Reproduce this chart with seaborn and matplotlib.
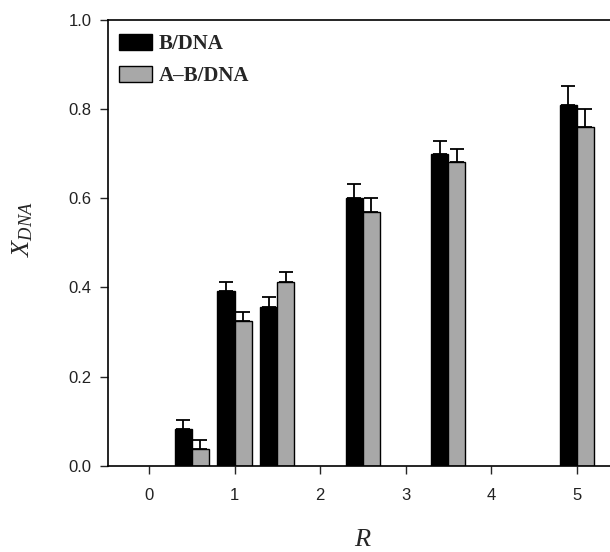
import numpy as np
import pandas as pd
import matplotlib
matplotlib.use("Agg")
import matplotlib.pyplot as plt
import seaborn as sns

# Data
R_values = [0.5, 1.0, 1.5, 2.5, 3.5, 5.0]
b_dna = [0.083, 0.393, 0.357, 0.600, 0.699, 0.810]
b_dna_err = [0.020, 0.020, 0.021, 0.032, 0.029, 0.042]
ab_dna = [0.038, 0.324, 0.413, 0.569, 0.681, 0.760]
ab_dna_err = [0.020, 0.020, 0.021, 0.031, 0.029, 0.040]
series_names = ["B/DNA", "A\u2013B/DNA"]
x_ticks = [0, 1, 2, 3, 4, 5]
y_ticks = [0.0, 0.2, 0.4, 0.6, 0.8, 1.0]

df = pd.DataFrame({
    "R": R_values * 2,
    "X": b_dna + ab_dna,
    "err": b_dna_err + ab_dna_err,
    "series": [series_names[0]] * len(R_values) + [series_names[1]] * len(R_values),
})

sns.set_style("ticks")
plt.rcParams["font.family"] = ["Liberation Sans", "DejaVu Sans"]
plt.rcParams["mathtext.fontset"] = "custom"
plt.rcParams["mathtext.it"] = "Liberation Serif:italic"
plt.rcParams["mathtext.rm"] = "Liberation Serif"

fig = plt.figure(figsize=(6.1, 5.52), dpi=100)
ax = fig.add_axes([0.177, 0.156, 0.823, 0.808])

sns.barplot(data=df, x="R", y="X", hue="series", native_scale=True,
            palette=["#000000", "#a8a8a8"], width=0.8, errorbar=None,
            edgecolor="black", linewidth=1.0, ax=ax, legend=True)

# upper-only error bars placed at the bar centres from the library
for container, errs in zip(ax.containers, [b_dna_err, ab_dna_err]):
    xs = [p.get_x() + p.get_width() / 2 for p in container.patches]
    hs = [p.get_height() for p in container.patches]
    ax.errorbar(xs, hs, yerr=[np.zeros(len(errs)), errs], fmt="none",
                ecolor="black", elinewidth=1.3, capsize=5, capthick=1.3, zorder=1)

ax.set_xlim(-0.48, 5.39)
ax.set_ylim(0, 1.0)
ax.set_xticks(x_ticks)
ax.set_xticklabels([str(t) for t in x_ticks])
ax.set_yticks(y_ticks)
ax.set_yticklabels([f"{t:.1f}" for t in y_ticks])
ax.tick_params(axis="both", direction="out", length=6, width=1, labelsize=12,
               labelcolor="#222222")
ax.tick_params(axis="x", pad=10)
ax.tick_params(axis="y", pad=6)

for side in ["left", "bottom", "top"]:
    ax.spines[side].set_visible(True)
    ax.spines[side].set_linewidth(1.2)
    ax.spines[side].set_color("black")
ax.spines["right"].set_visible(False)

ax.set_xlabel("$R$", fontsize=19)
ax.set_ylabel("$X_{DNA}$", fontsize=19)
ax.xaxis.set_label_coords(0.508, -0.138)
ax.yaxis.set_label_coords(-0.145, 0.53)

leg = ax.legend(loc="upper left", bbox_to_anchor=(0.014, 0.978), frameon=False,
                handlelength=1.6, handleheight=0.85, handletextpad=0.3,
                labelspacing=0.55, borderaxespad=0.0, borderpad=0.2,
                prop={"family": "Liberation Serif", "weight": "bold", "size": 15})

fig.savefig("out.png", dpi=100)
